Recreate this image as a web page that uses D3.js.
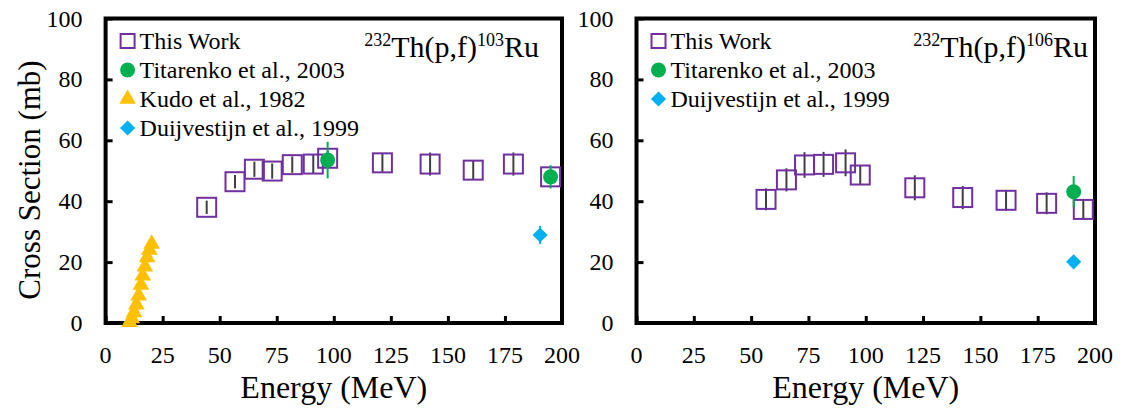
<!DOCTYPE html>
<html>
<head>
<meta charset="utf-8">
<script src="https://cdn.jsdelivr.net/npm/d3@7"></script>
<style>
  body { margin: 0; background: #fff; }
  text { font-family: "Liberation Serif", "Times New Roman", serif; fill: #000; }
</style>
</head>
<body>
<script>
// ---------- data ----------
var xTicks = [0, 25, 50, 75, 100, 125, 150, 175, 200];
var yTicks = [0, 20, 40, 60, 80, 100];

// 232Th(p,f)103Ru
var ru103WorkE   = [44.3, 56.7, 65.2, 73.0, 81.8, 91.0, 97.3, 121.3, 142.2, 161.1, 178.7, 195.0];
var ru103WorkXs  = [38.0, 46.4, 50.5, 49.9, 52.0, 52.2, 54.1, 52.6, 52.2, 50.2, 52.2, 48.0];
var ru103WorkErr = [2.2, 2.2, 2.5, 2.5, 2.7, 3.0, 2.5, 3.0, 3.8, 3.0, 3.8, 2.0];
var ru103TitE    = [97.3, 195.0];
var ru103TitXs   = [53.5, 48.0];
var ru103TitErr  = [6.0, 3.8];
var ru103KudoE   = [10.5, 11.5, 12.5, 13.5, 14.5, 15.5, 16.3, 17.2, 18.2, 19.2, 20.2];
var ru103KudoXs  = [0.3, 1.5, 3.5, 6.0, 9.0, 12.5, 15.5, 18.5, 21.5, 24.0, 26.0];
var ru103DuiE    = [190.4];
var ru103DuiXs   = [28.9];
var ru103DuiErr  = [3.0];

// 232Th(p,f)106Ru
var ru106WorkE   = [56.5, 65.4, 73.3, 81.6, 91.2, 97.6, 121.4, 142.3, 161.2, 178.9, 194.9];
var ru106WorkXs  = [40.6, 47.0, 51.9, 52.1, 52.6, 48.6, 44.4, 41.2, 40.3, 39.3, 37.3];
var ru106WorkErr = [3.6, 3.8, 4.2, 4.1, 4.4, 3.3, 4.1, 3.8, 3.4, 3.6, 3.3];
var ru106TitE    = [190.7];
var ru106TitXs   = [43.1];
var ru106TitErr  = [5.2];
var ru106DuiE    = [190.7];
var ru106DuiXs   = [20.1];

// ---------- look ----------
var w = 1133;
var h = 415;
var purple = "#7030A0";
var green  = "#00B050";
var gold   = "#FFC000";
var blue   = "#00B0F0";
var errCol = "#404040";

var svg = d3.select("body")
            .append("svg")
            .attr("width", w)
            .attr("height", h);

// y axis title shared on the far left
svg.append("text")
   .attr("transform", "translate(40,180) rotate(-90)")
   .attr("text-anchor", "middle")
   .attr("font-size", "31px")
   .text("Cross Section (mb)");

function zip(a, b, c) {
  return a.map(function(v, i) { return {e: v, s: b[i], err: c ? c[i] : 0}; });
}

// draws one panel
function drawPanel(p) {
  var x = d3.scaleLinear().domain([0, 200]).range([p.left, p.right]);
  var y = d3.scaleLinear().domain([0, 100]).range([323, 18.5]);
  var g = svg.append("g");

  // ticks inside the box
  var xAxis = d3.axisTop(x).tickValues(xTicks).tickSize(7).tickFormat("");
  var yAxis = d3.axisRight(y).tickValues(yTicks).tickSize(7).tickFormat("");
  g.append("g").attr("transform", "translate(0," + y(0) + ")").call(xAxis)
   .call(function(s) { s.select(".domain").remove(); s.selectAll("line").attr("stroke-width", 3); });
  g.append("g").attr("transform", "translate(" + x(0) + ",0)").call(yAxis)
   .call(function(s) { s.select(".domain").remove(); s.selectAll("line").attr("stroke-width", 3); });

  // tick labels
  g.selectAll(".xl").data(xTicks).enter().append("text")
   .attr("x", function(d) { return x(d); })
   .attr("y", 363)
   .attr("text-anchor", "middle")
   .attr("font-size", "24px")
   .text(function(d) { return d; });
  g.selectAll(".yl").data(yTicks).enter().append("text")
   .attr("x", x(0) - 23)
   .attr("y", function(d) { return y(d) + 8; })
   .attr("text-anchor", "end")
   .attr("font-size", "24px")
   .text(function(d) { return d; });

  // x title
  g.append("text")
   .attr("x", (x(0) + x(200)) / 2)
   .attr("y", 398)
   .attr("text-anchor", "middle")
   .attr("font-size", "32px")
   .text("Energy (MeV)");

  // box
  g.append("rect")
   .attr("x", x(0)).attr("y", y(100))
   .attr("width", x(200) - x(0)).attr("height", y(0) - y(100))
   .attr("fill", "none").attr("stroke", "#000").attr("stroke-width", 4);

  // error bars
  function errBars(data, col) {
    g.selectAll(null).data(data.filter(function(d) { return d.err > 0; })).enter().append("line")
     .attr("x1", function(d) { return x(d.e); })
     .attr("x2", function(d) { return x(d.e); })
     .attr("y1", function(d) { return y(d.s - d.err); })
     .attr("y2", function(d) { return y(d.s + d.err); })
     .attr("stroke", col).attr("stroke-width", 2);
  }

  var work = zip(p.workE, p.workXs, p.workErr);
  errBars(work, errCol);
  g.selectAll(null).data(work).enter().append("rect")
   .attr("x", function(d) { return x(d.e) - 9.5; })
   .attr("y", function(d) { return y(d.s) - 9.5; })
   .attr("width", 19).attr("height", 19)
   .attr("fill", "none").attr("stroke", purple).attr("stroke-width", 2);

  if (p.kudoE) {
    var kudo = zip(p.kudoE, p.kudoXs);
    g.selectAll(null).data(kudo).enter().append("path")
     .attr("d", d3.symbol(d3.symbolTriangle, 120))
     .attr("transform", function(d) { return "translate(" + x(d.e) + "," + y(d.s) + ")"; })
     .attr("fill", gold);
  }

  var dui = zip(p.duiE, p.duiXs, p.duiErr);
  errBars(dui, blue);
  g.selectAll(null).data(dui).enter().append("path")
   .attr("d", d3.symbol(d3.symbolSquare, 115))
   .attr("transform", function(d) { return "translate(" + x(d.e) + "," + y(d.s) + ") rotate(45)"; })
   .attr("fill", blue);

  var tit = zip(p.titE, p.titXs, p.titErr);
  errBars(tit, green);
  g.selectAll(null).data(tit).enter().append("circle")
   .attr("cx", function(d) { return x(d.e); })
   .attr("cy", function(d) { return y(d.s); })
   .attr("r", 7.5)
   .attr("fill", green);

  // legend
  var lg = g.append("g").attr("transform", "translate(" + (x(0) + 22) + ",0)");
  p.legend.forEach(function(item, i) {
    var base = 49 + i * 29;
    var cy = base - 8;
    if (item.k === "sq") {
      lg.append("rect").attr("x", -7).attr("y", cy - 7).attr("width", 14).attr("height", 14)
        .attr("fill", "none").attr("stroke", purple).attr("stroke-width", 2);
    } else if (item.k === "ci") {
      lg.append("circle").attr("cx", 0).attr("cy", cy).attr("r", 7.5).attr("fill", green);
    } else if (item.k === "tr") {
      lg.append("path").attr("d", d3.symbol(d3.symbolTriangle, 120))
        .attr("transform", "translate(0," + cy + ")").attr("fill", gold);
    } else {
      lg.append("path").attr("d", d3.symbol(d3.symbolSquare, 115))
        .attr("transform", "translate(0," + cy + ") rotate(45)").attr("fill", blue);
    }
    lg.append("text").attr("x", 12).attr("y", base)
      .attr("font-size", "24px").text(item.t);
  });

  // reaction label
  var t = g.append("text")
           .attr("x", p.titleX)
           .attr("y", 57)
           .attr("text-anchor", "end")
           .attr("font-size", "30px");
  t.append("tspan").attr("font-size", "18px").attr("dy", -11).text("232");
  t.append("tspan").attr("dy", 11).text("Th(p,f)");
  t.append("tspan").attr("font-size", "18px").attr("dy", -11).text(p.mass);
  t.append("tspan").attr("dy", 11).text("Ru");
}

drawPanel({
  left: 105.6, right: 562, titleX: 539, mass: "103",
  workE: ru103WorkE, workXs: ru103WorkXs, workErr: ru103WorkErr,
  titE: ru103TitE, titXs: ru103TitXs, titErr: ru103TitErr,
  kudoE: ru103KudoE, kudoXs: ru103KudoXs,
  duiE: ru103DuiE, duiXs: ru103DuiXs, duiErr: ru103DuiErr,
  legend: [
    {k: "sq", t: "This Work"},
    {k: "ci", t: "Titarenko et al., 2003"},
    {k: "tr", t: "Kudo et al., 1982"},
    {k: "di", t: "Duijvestijn et al., 1999"}
  ]
});

drawPanel({
  left: 636.5, right: 1095, titleX: 1088, mass: "106",
  workE: ru106WorkE, workXs: ru106WorkXs, workErr: ru106WorkErr,
  titE: ru106TitE, titXs: ru106TitXs, titErr: ru106TitErr,
  duiE: ru106DuiE, duiXs: ru106DuiXs, duiErr: null,
  legend: [
    {k: "sq", t: "This Work"},
    {k: "ci", t: "Titarenko et al., 2003"},
    {k: "di", t: "Duijvestijn et al., 1999"}
  ]
});
</script>
</body>
</html>
